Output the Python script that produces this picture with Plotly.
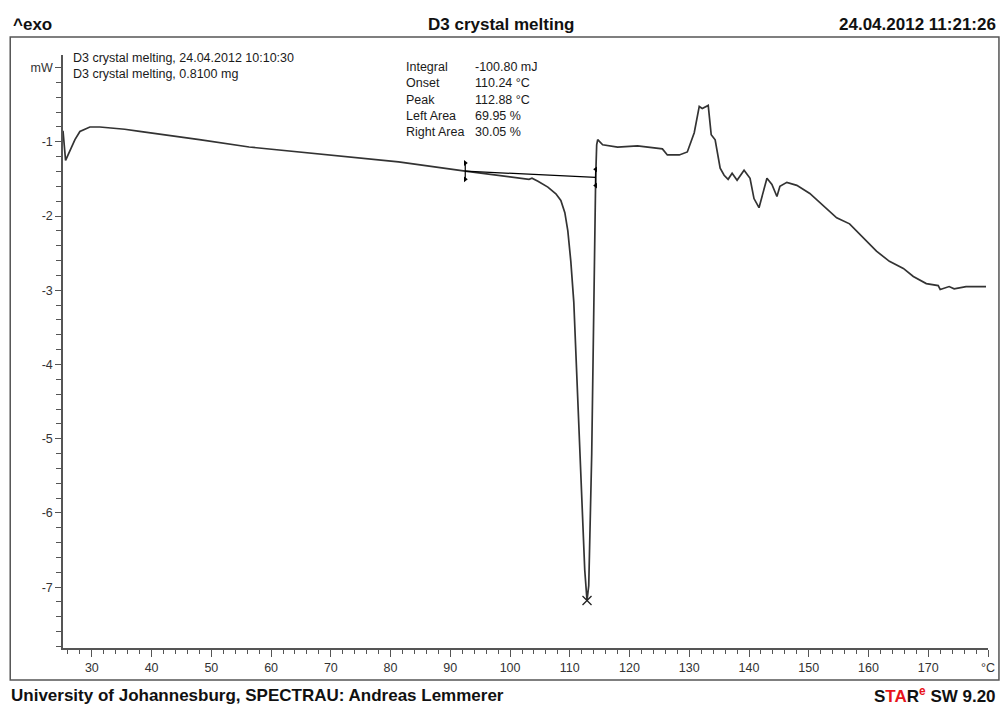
import plotly.graph_objects as go

# DSC curve (temperature in degC, heat flow in mW)
temp_c = [25.17, 25.6, 26.0, 27.17, 28.0, 29.67, 31.33, 33.0, 35.5, 38.0, 43.0, 48.0, 56.33,
          64.67, 73.0, 81.33, 92.5, 98.0, 101.33, 103.17, 103.67, 104.67, 106.33,
          107.67, 108.5, 109.17, 109.67, 110.17, 110.67, 111.33, 112.0, 112.5, 112.88,
          113.17, 113.67, 114.0, 114.33, 114.5, 114.67, 115.5, 118.0, 121.33, 125.5,
          126.33, 128.33, 129.67, 130.83, 131.67, 132.17, 133.17, 133.67, 134.33, 135.17,
          135.83, 136.5, 137.17, 138.0, 139.17, 140.17, 140.83, 141.67, 143.0, 143.83,
          144.67, 145.17, 146.33, 148.0, 150.17, 152.5, 154.67, 156.83, 159.17, 161.33,
          163.5, 165.83, 167.5, 169.67, 171.67, 172.0, 173.5, 174.33, 176.33, 179.67]
heat_flow = [-0.85, -1.25, -1.18, -0.97, -0.86, -0.80, -0.80, -0.81, -0.83, -0.86, -0.91, -0.97, -1.07,
             -1.14, -1.20, -1.27, -1.395, -1.45, -1.49, -1.505, -1.49, -1.53, -1.61,
             -1.70, -1.79, -1.955, -2.2, -2.61, -3.16, -4.52, -5.88, -6.77, -7.18,
             -6.98, -5.2, -3.16, -1.48, -1.04, -0.97, -1.04, -1.07, -1.055, -1.095,
             -1.177, -1.177, -1.136, -0.877, -0.523, -0.55, -0.509, -0.905, -0.973, -1.355,
             -1.45, -1.505, -1.423, -1.518, -1.382, -1.491, -1.764, -1.887, -1.491, -1.573,
             -1.737, -1.6, -1.546, -1.587, -1.696, -1.86, -2.023, -2.105, -2.296, -2.473,
             -2.61, -2.705, -2.814, -2.91, -2.937, -2.99, -2.95, -2.98, -2.95, -2.95]

# integration limits / baseline and peak
baseline_t = [92.5, 114.33]
baseline_hf = [-1.395, -1.48]
peak_t = [112.88]
peak_hf = [-7.18]

x_major = [30, 40, 50, 60, 70, 80, 90, 100, 110, 120, 130, 140, 150, 160, 170, 180]
x_labels = ["30", "40", "50", "60", "70", "80", "90", "100", "110", "120",
            "130", "140", "150", "160", "170", "°C"]
y_major = [-7, -6, -5, -4, -3, -2, -1, 0]
y_labels = ["-7", "-6", "-5", "-4", "-3", "-2", "-1", "mW"]

result_names = ["Integral", "Onset", "Peak", "Left Area", "Right Area"]
result_values = ["-100.80 mJ", "110.24 °C", "112.88 °C", "69.95 %", "30.05 %"]
curve_info = ["D3 crystal melting, 24.04.2012 10:10:30", "D3 crystal melting, 0.8100 mg"]

W, H = 1007, 708
L, R, T, B = 63, 992, 55, 648


def px(x):
    return (x - L) / (R - L)


def py(y):
    return (B - y) / (B - T)


fig = go.Figure()

fig.add_trace(go.Scatter(x=temp_c, y=heat_flow, mode="lines",
                         line=dict(color="#333", width=1.7), hoverinfo="skip"))
fig.add_trace(go.Scatter(x=baseline_t, y=baseline_hf, mode="lines",
                         line=dict(color="black", width=1.2), hoverinfo="skip"))

# limit markers: short vertical bar with small arrowheads
for t, hf, sym in [(baseline_t[0], baseline_hf[0], "triangle-right"),
                   (baseline_t[1], baseline_hf[1], "triangle-left")]:
    fig.add_trace(go.Scatter(x=[t, t], y=[hf + 0.11, hf - 0.11], mode="lines+markers",
                             line=dict(color="black", width=1.2),
                             marker=dict(symbol=sym, size=5, color="black"),
                             hoverinfo="skip"))

fig.add_trace(go.Scatter(x=peak_t, y=peak_hf, mode="markers",
                         marker=dict(symbol="x-thin", size=9,
                                     line=dict(color="#222", width=1.3)),
                         hoverinfo="skip"))

axis_font = dict(family="Liberation Sans, Arial", size=12.5, color="#333")

fig.update_xaxes(range=[25.17, 180], showline=True, linecolor="#555", linewidth=1.5,
                 tickvals=x_major, ticktext=x_labels, ticks="outside", ticklen=7,
                 tickcolor="#555", tickwidth=1.3, tickfont=axis_font,
                 minor=dict(tick0=30, dtick=2, ticks="outside", ticklen=4,
                            tickcolor="#555", tickwidth=1.3),
                 showgrid=False, zeroline=False, fixedrange=True)
fig.update_yaxes(range=[-7.82, 0.17], showline=True, linecolor="#555", linewidth=1.5,
                 tickvals=y_major, ticktext=y_labels, ticks="outside", ticklen=6,
                 tickcolor="#555", tickwidth=1.3, tickfont=axis_font,
                 minor=dict(tick0=0, dtick=0.2, ticks="outside", ticklen=5,
                            tickcolor="#555", tickwidth=1.3),
                 showgrid=False, zeroline=False, fixedrange=True)

text_font = dict(family="Liberation Sans, Arial", size=12.5, color="#1a1a1a")
head_font = dict(family="Liberation Sans, Arial", size=17, color="#111")

annotations = [
    dict(x=px(11), y=py(24), text="<b>^exo</b>", xanchor="left", font=head_font),
    dict(x=px(503), y=py(24), text="<b>D3 crystal melting</b>", xanchor="center", font=head_font),
    dict(x=px(1002), y=py(24), text="<b>24.04.2012 11:21:26</b>", xanchor="right", font=head_font),
    dict(x=px(9), y=py(695), text="<b>University of Johannesburg, SPECTRAU: Andreas Lemmerer</b>",
         xanchor="left", font=head_font),
    dict(x=px(1002), y=py(695),
         text="<b>S<span style='color:#e8141b'>TA</span>R<sup><span style='color:#e8141b'>e</span></sup> SW 9.20</b>",
         xanchor="right", font=head_font),
]
for a in annotations:
    a["yanchor"] = "middle"

annotations += [
    dict(x=px(71), y=py(49), text="<br>".join(curve_info), xanchor="left", yanchor="top",
         align="left", font=text_font),
    dict(x=px(405), y=py(58), text="<br>".join(result_names), xanchor="left", yanchor="top",
         align="left", font=text_font),
    dict(x=px(475), y=py(58), text="<br>".join(result_values), xanchor="left", yanchor="top",
         align="left", font=text_font),
]
for a in annotations:
    a.update(xref="paper", yref="paper", showarrow=False)

fig.update_layout(
    width=W, height=H,
    margin=dict(l=L, r=W - R, t=T, b=H - B, pad=0),
    plot_bgcolor="white", paper_bgcolor="white",
    showlegend=False,
    annotations=annotations,
    shapes=[dict(type="rect", xref="paper", yref="paper",
                 x0=px(10), x1=px(1003), y0=py(680), y1=py(37),
                 line=dict(color="#555", width=1.5), layer="below")],
)

# page body has a default 8px margin; drop it so the figure sits at the window origin
fig.write_html("out.html", config={"displayModeBar": False},
               post_script="document.body.style.margin='0px';")
